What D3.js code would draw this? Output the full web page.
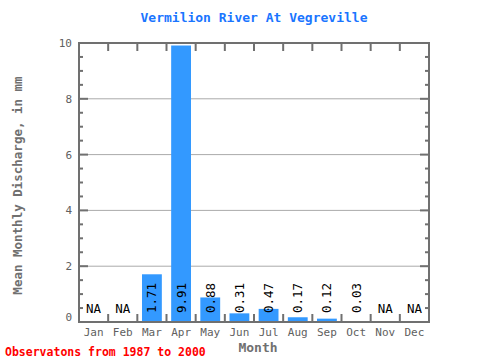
<!DOCTYPE html>
<html><head><meta charset="utf-8">
<script src="https://cdn.jsdelivr.net/npm/d3@7"></script>
<style>body{margin:0;background:#fff}svg{display:block}</style>
</head><body>
<svg id="c" width="480" height="360"></svg>
<script>
const months = ["Jan","Feb","Mar","Apr","May","Jun","Jul","Aug","Sep","Oct","Nov","Dec"];
const values = [null,null,1.71,9.91,0.88,0.31,0.47,0.17,0.12,0.03,null,null];
const labels = ["NA","NA","1.71","9.91","0.88","0.31","0.47","0.17","0.12","0.03","NA","NA"];
const yTicks = [0,2,4,6,8,10];
const yMinor = d3.range(0,10.01,0.5);

const svg = d3.select("#c");
const L=79,R=429,T=43,B=322;
const font = "'DejaVu Sans Mono', monospace";
const axisCol = "#707070";
const x = d3.scaleBand().domain(months).range([L,R]).padding(0);
const y = d3.scaleLinear().domain([0,10]).range([B,T]);

// grid
svg.append("g").selectAll("line").data(yTicks.filter(d=>d>0&&d<10)).join("line")
  .attr("x1",L).attr("x2",R).attr("y1",d=>y(d)).attr("y2",d=>y(d))
  .attr("stroke","#aaaaaa").attr("stroke-width",1);

// bars
const bw = x.bandwidth()*0.68;
svg.append("g").selectAll("rect").data(months.map((m,i)=>({m,v:values[i]})).filter(d=>d.v!=null)).join("rect")
  .attr("x",d=>x(d.m)+(x.bandwidth()-bw)/2).attr("width",bw)
  .attr("y",d=>y(d.v)).attr("height",d=>B-y(d.v))
  .attr("fill","#3399ff");

// ticks
const tg = svg.append("g").attr("stroke",axisCol).attr("stroke-width",2);
yMinor.forEach(v=>{
  const len = (v%2===0)?9:4;
  tg.append("line").attr("x1",L).attr("x2",L+len).attr("y1",y(v)).attr("y2",y(v));
  tg.append("line").attr("x1",R).attr("x2",R-len).attr("y1",y(v)).attr("y2",y(v));
});
months.slice(1).forEach(m=>{
  const xx = x(m);
  tg.append("line").attr("x1",xx).attr("x2",xx).attr("y1",T).attr("y2",T+8);
  tg.append("line").attr("x1",xx).attr("x2",xx).attr("y1",B).attr("y2",B-8);
});
// frame
svg.append("rect").attr("x",L).attr("y",T).attr("width",R-L).attr("height",B-T)
  .attr("fill","none").attr("stroke",axisCol).attr("stroke-width",2);

// y tick labels
svg.append("g").selectAll("text").data(yTicks).join("text")
  .attr("x",L-7).attr("y",d=>y(d)+(d===0?-1:4)).attr("text-anchor","end")
  .attr("font-family",font).attr("font-size",11).attr("fill","#606060").text(d=>d);

// x tick labels
svg.append("g").selectAll("text").data(months).join("text")
  .attr("x",d=>x(d)+x.bandwidth()/2).attr("y",336).attr("text-anchor","middle")
  .attr("font-family",font).attr("font-size",11).attr("fill","#606060").text(d=>d);

// value labels
months.forEach((m,i)=>{
  const cx = x(m)+x.bandwidth()/2;
  if(values[i]==null){
    svg.append("text").attr("x",cx).attr("y",313).attr("text-anchor","middle")
      .attr("font-family",font).attr("font-size",12.5).attr("fill","#000").text(labels[i]);
  } else {
    svg.append("text").attr("transform",`translate(${cx+4.5},313) rotate(-90)`)
      .attr("text-anchor","start")
      .attr("font-family",font).attr("font-size",12.5).attr("fill","#000").text(labels[i]);
  }
});

// title
svg.append("text").attr("x",(L+R)/2).attr("y",22).attr("text-anchor","middle")
  .attr("font-family",font).attr("font-size",13).attr("font-weight","bold").attr("fill","#1a75ff")
  .text("Vermilion River At Vegreville");
// axis titles
svg.append("text").attr("x",258).attr("y",352).attr("text-anchor","middle")
  .attr("font-family",font).attr("font-size",13).attr("font-weight","bold").attr("fill","#707070").text("Month");
svg.append("text").attr("transform",`translate(22,${(T+B)/2+3}) rotate(-90)`).attr("text-anchor","middle")
  .attr("font-family",font).attr("font-size",12.5).attr("font-weight","bold").attr("fill","#707070")
  .text("Mean Monthly Discharge, in mm");
svg.append("text").attr("x",5).attr("y",356)
  .attr("font-family",font).attr("font-size",11.5).attr("font-weight","bold").attr("fill","#ff0000")
  .text("Observatons from 1987 to 2000");
</script>
</body></html>
